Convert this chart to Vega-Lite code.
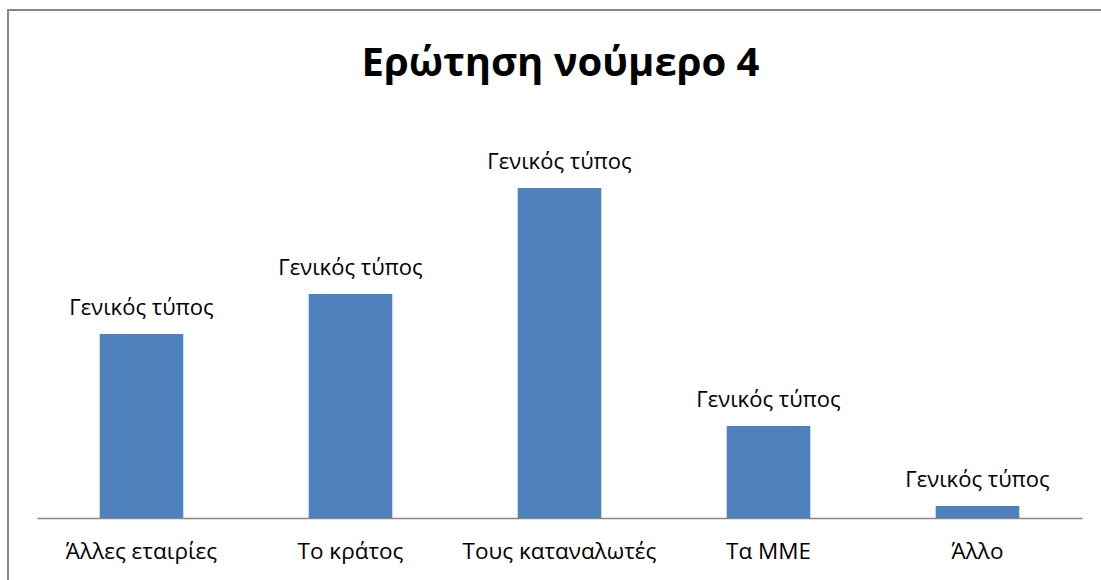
{
  "$schema": "https://vega.github.io/schema/vega-lite/v6.json",
  "width": 1105,
  "height": 582,
  "autosize": {"type": "none"},
  "padding": {"left": 8, "top": 10, "right": -12, "bottom": -12},
  "background": "white",
  "title": {
    "text": "Ερώτηση νούμερο 4",
    "font": "Open Sans",
    "fontSize": 40,
    "fontWeight": "bold",
    "color": "black",
    "anchor": "middle",
    "frame": "group",
    "baseline": "alphabetic",
    "offset": -106
  },
  "data": {
    "values": [
      {"category": "Άλλες εταιρίες", "value": 46, "label": "Γενικός τύπος"},
      {"category": "Το κράτος", "value": 56, "label": "Γενικός τύπος"},
      {"category": "Τους καταναλωτές", "value": 82.5, "label": "Γενικός τύπος"},
      {"category": "Τα ΜΜΕ", "value": 23, "label": "Γενικός τύπος"},
      {"category": "Άλλο", "value": 3, "label": "Γενικός τύπος"}
    ]
  },
  "encoding": {
    "x": {
      "field": "category",
      "type": "nominal",
      "sort": null,
      "scale": {"range": [29, 1074], "paddingInner": 0.6, "paddingOuter": 0.3},
      "axis": {
        "title": null,
        "offset": -74,
        "labelAngle": 0,
        "labelFont": "Open Sans",
        "labelFontSize": 22.5,
        "labelColor": "black",
        "labelPadding": 22,
        "labelLimit": 0,
        "ticks": false,
        "domainColor": "#868686",
        "domainWidth": 1.5,
        "grid": false
      }
    },
    "y": {
      "field": "value",
      "type": "quantitative",
      "scale": {"domain": [0, 127], "range": [508, 0], "nice": false, "zero": true},
      "axis": null
    }
  },
  "layer": [
    {"mark": {"type": "bar", "color": "#4F81BD"}},
    {
      "mark": {
        "type": "text",
        "font": "Open Sans",
        "fontSize": 22,
        "color": "black",
        "baseline": "alphabetic",
        "dy": -19
      },
      "encoding": {"text": {"field": "label"}}
    }
  ],
  "config": {
    "view": {"stroke": "#868686", "strokeWidth": 2}
  }
}
